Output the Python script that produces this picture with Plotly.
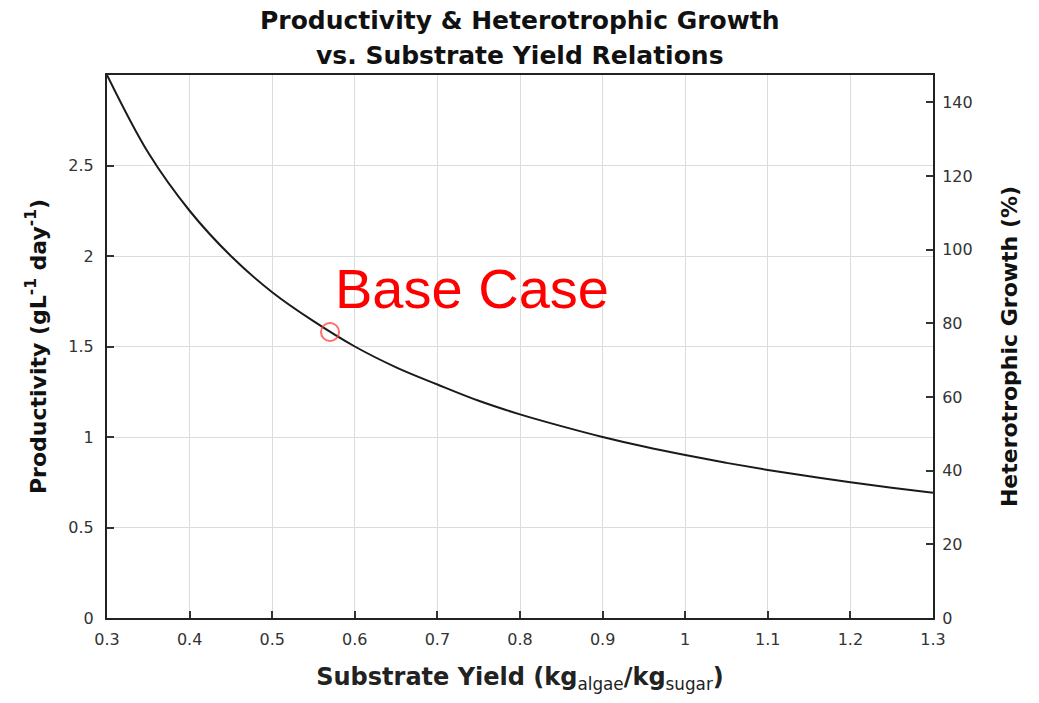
import plotly.graph_objects as go

# Substrate yield (kg algae / kg sugar) and productivity (g L^-1 day^-1) along the curve
substrate_yield = [0.30, 0.35, 0.40, 0.45, 0.50, 0.55, 0.60, 0.65, 0.70, 0.75, 0.80,
                   0.85, 0.90, 0.95, 1.00, 1.05, 1.10, 1.15, 1.20, 1.25, 1.30]
productivity = [3.00, 2.57, 2.25, 2.00, 1.80, 1.64, 1.50, 1.385, 1.29, 1.20, 1.125,
                1.06, 1.00, 0.947, 0.90, 0.857, 0.818, 0.783, 0.75, 0.72, 0.692]

# Base case operating point
base_yield = [0.57]
base_productivity = [1.58]

x_ticks = [0.3, 0.4, 0.5, 0.6, 0.7, 0.8, 0.9, 1.0, 1.1, 1.2, 1.3]
x_tick_text = ["0.3", "0.4", "0.5", "0.6", "0.7", "0.8", "0.9", "1", "1.1", "1.2", "1.3"]
left_ticks = [0, 0.5, 1, 1.5, 2, 2.5]
left_tick_text = ["0", "0.5", "1", "1.5", "2", "2.5"]
right_ticks = [0, 20, 40, 60, 80, 100, 120, 140]

title_lines = ["Productivity & Heterotrophic Growth", "vs. Substrate Yield Relations"]

BOLD_FONT = "DejaVu Sans, Arial, sans-serif"
TICK_FONT = "DejaVu Sans, Arial, sans-serif"
LABEL_FONT = "Liberation Sans, Arial, sans-serif"

fig = go.Figure()

fig.add_trace(go.Scatter(
    x=substrate_yield, y=productivity, mode="lines",
    line=dict(color="#1a1a1a", width=2, shape="spline", smoothing=1.0),
    showlegend=False, hoverinfo="x+y",
))

fig.add_trace(go.Scatter(
    x=base_yield, y=base_productivity, mode="markers",
    marker=dict(symbol="circle-open", size=18, color="rgba(255,60,60,0.75)",
                line=dict(width=2, color="rgba(255,60,60,0.75)")),
    showlegend=False,
))

# Secondary axis carrier (heterotrophic growth share, %)
fig.add_trace(go.Scatter(x=[None], y=[None], yaxis="y2", showlegend=False, hoverinfo="skip"))

fig.add_annotation(
    x=base_yield[0] + 0.004, y=base_productivity[0] + 0.058, xref="x", yref="y",
    text="Base Case", showarrow=False, xanchor="left", yanchor="bottom",
    font=dict(family=LABEL_FONT, size=56, color="#ff0000"),
)

# Two-line chart title above the plot area
for i, line in enumerate(title_lines):
    fig.add_annotation(
        x=0.5, y=1, xref="paper", yref="paper", yanchor="middle", xanchor="center",
        yshift=55 - 35 * i, text=f"<b>{line}</b>", showarrow=False,
        font=dict(family=BOLD_FONT, size=25, color="#111"),
    )

axis_common = dict(
    showline=True, linecolor="#222", linewidth=2, ticks="inside", ticklen=7,
    tickcolor="#333", tickwidth=1.5, zeroline=False,
    tickfont=dict(family=TICK_FONT, size=16, color="#333"),
)

fig.update_layout(
    width=1039, height=703,
    margin=dict(l=107, r=106, t=75, b=85),
    paper_bgcolor="white", plot_bgcolor="white",
    xaxis=dict(
        range=[0.3, 1.3], tickvals=x_ticks, ticktext=x_tick_text,
        showgrid=True, gridcolor="#dcdcdc", gridwidth=1, mirror=True,
        ticklabelstandoff=6,
        title=dict(text="<b>Substrate Yield (kg</b><sub>algae</sub><b>/kg</b><sub>sugar</sub><b>)</b>",
                   font=dict(family=BOLD_FONT, size=24, color="#222"), standoff=20),
        **axis_common,
    ),
    yaxis=dict(
        range=[0, 3.0], tickvals=left_ticks, ticktext=left_tick_text,
        showgrid=True, gridcolor="#dcdcdc", gridwidth=1,
        ticklabelstandoff=8,
        title=dict(text="<b>Productivity (gL<sup>-1</sup> day<sup>-1</sup>)</b>",
                   font=dict(family=BOLD_FONT, size=22, color="#111"), standoff=16),
        **axis_common,
    ),
    yaxis2=dict(
        range=[0, 147.4], tickvals=right_ticks, overlaying="y", side="right",
        showgrid=False, ticklabelstandoff=4,
        title=dict(text="<b>Heterotrophic Growth (%)</b>",
                   font=dict(family=BOLD_FONT, size=22, color="#111"), standoff=30),
        **axis_common,
    ),
)

fig.write_html("out.html")
